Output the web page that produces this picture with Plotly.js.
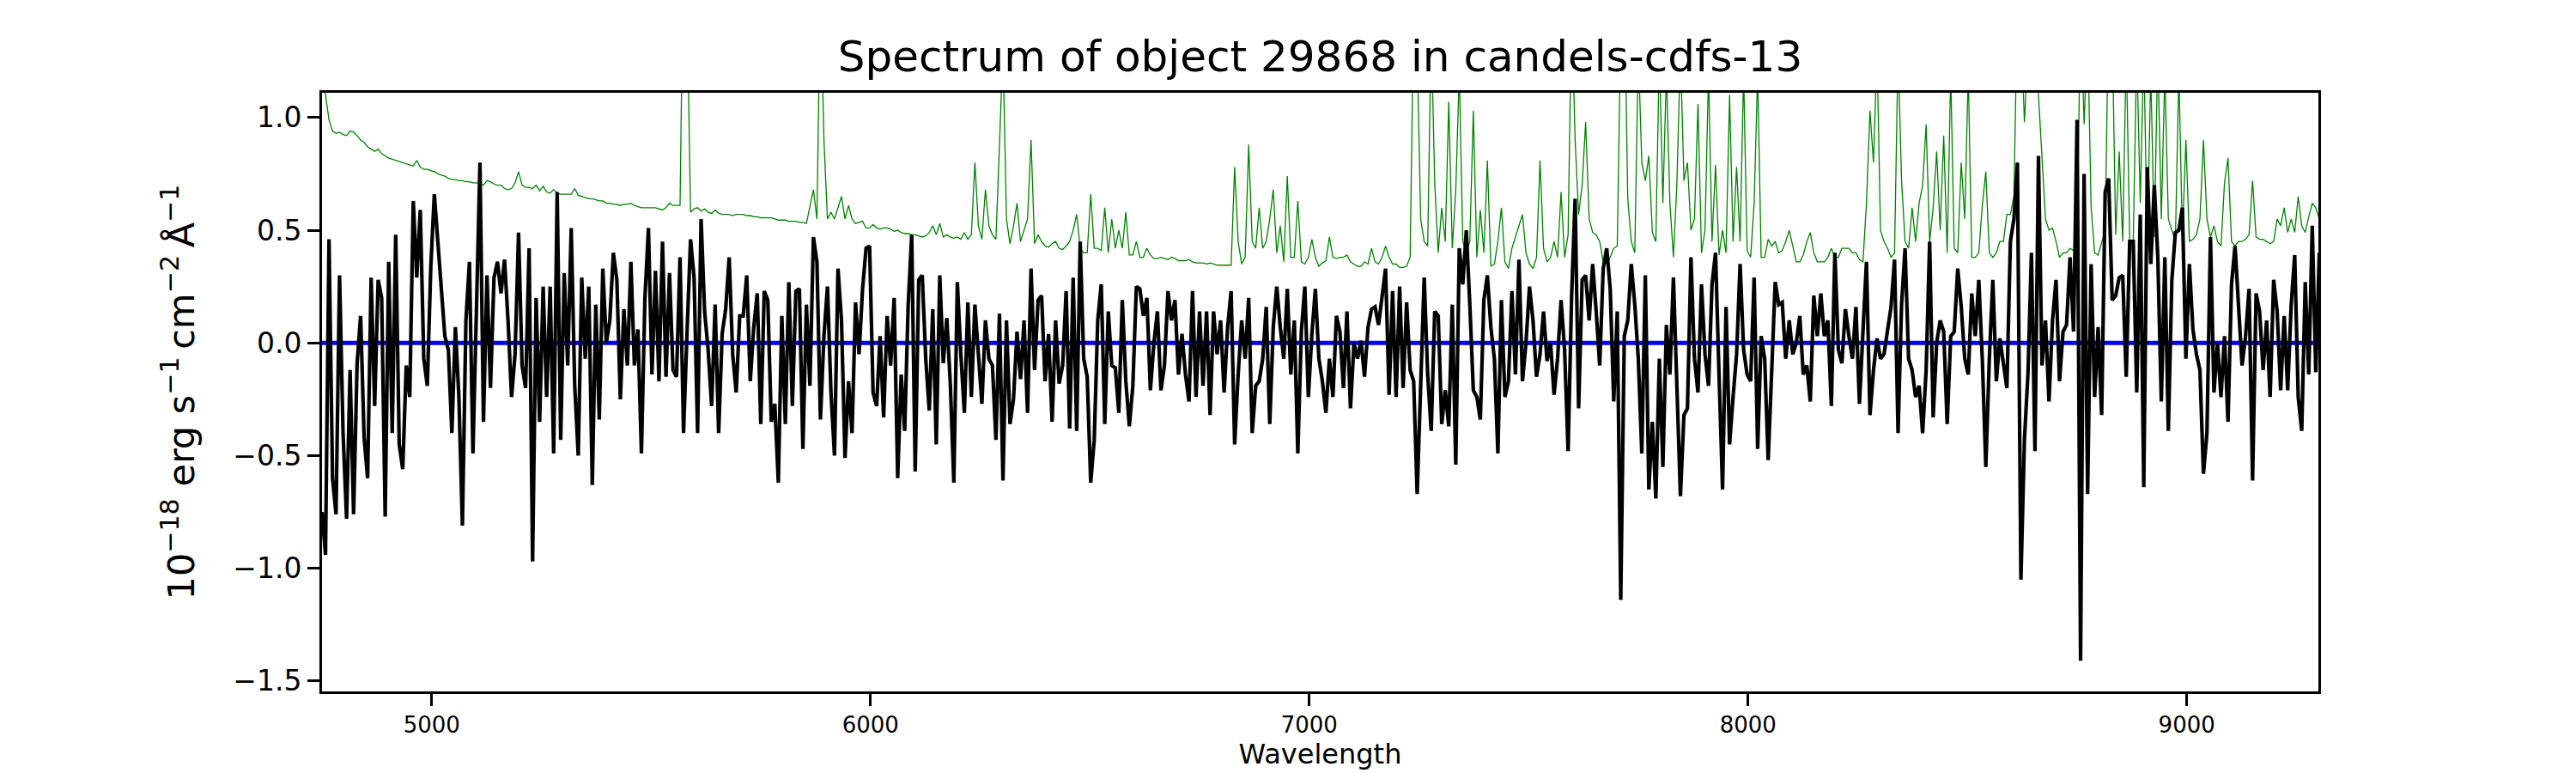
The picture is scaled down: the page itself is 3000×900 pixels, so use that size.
<!DOCTYPE html>
<html>
<head>
<meta charset="utf-8">
<script src="https://cdn.plot.ly/plotly-3.0.1.min.js"></script>
<style>
  html, body { margin: 0; padding: 0; background: #ffffff; }
  #spectrum { width: 3000px; height: 900px; }
</style>
</head>
<body>
<div id="spectrum"></div>
<script>
// Spectrum of object 29868 on an 8 A grid

const wavelength = [
  4750,4758,4766,4774,4782,4790,4798,4806,4814,4822,
  4830,4838,4846,4854,4862,4870,4878,4886,4894,4902,
  4910,4918,4926,4934,4942,4950,4958,4966,4974,4982,
  4990,4998,5006,5014,5022,5030,5038,5046,5054,5062,
  5070,5078,5086,5094,5102,5110,5118,5126,5134,5142,
  5150,5158,5166,5174,5182,5190,5198,5206,5214,5222,
  5230,5238,5246,5254,5262,5270,5278,5286,5294,5302,
  5310,5318,5326,5334,5342,5350,5358,5366,5374,5382,
  5390,5398,5406,5414,5422,5430,5438,5446,5454,5462,
  5470,5478,5486,5494,5502,5510,5518,5526,5534,5542,
  5550,5558,5566,5574,5582,5590,5598,5606,5614,5622,
  5630,5638,5646,5654,5662,5670,5678,5686,5694,5702,
  5710,5718,5726,5734,5742,5750,5758,5766,5774,5782,
  5790,5798,5806,5814,5822,5830,5838,5846,5854,5862,
  5870,5878,5886,5894,5902,5910,5918,5926,5934,5942,
  5950,5958,5966,5974,5982,5990,5998,6006,6014,6022,
  6030,6038,6046,6054,6062,6070,6078,6086,6094,6102,
  6110,6118,6126,6134,6142,6150,6158,6166,6174,6182,
  6190,6198,6206,6214,6222,6230,6238,6246,6254,6262,
  6270,6278,6286,6294,6302,6310,6318,6326,6334,6342,
  6350,6358,6366,6374,6382,6390,6398,6406,6414,6422,
  6430,6438,6446,6454,6462,6470,6478,6486,6494,6502,
  6510,6518,6526,6534,6542,6550,6558,6566,6574,6582,
  6590,6598,6606,6614,6622,6630,6638,6646,6654,6662,
  6670,6678,6686,6694,6702,6710,6718,6726,6734,6742,
  6750,6758,6766,6774,6782,6790,6798,6806,6814,6822,
  6830,6838,6846,6854,6862,6870,6878,6886,6894,6902,
  6910,6918,6926,6934,6942,6950,6958,6966,6974,6982,
  6990,6998,7006,7014,7022,7030,7038,7046,7054,7062,
  7070,7078,7086,7094,7102,7110,7118,7126,7134,7142,
  7150,7158,7166,7174,7182,7190,7198,7206,7214,7222,
  7230,7238,7246,7254,7262,7270,7278,7286,7294,7302,
  7310,7318,7326,7334,7342,7350,7358,7366,7374,7382,
  7390,7398,7406,7414,7422,7430,7438,7446,7454,7462,
  7470,7478,7486,7494,7502,7510,7518,7526,7534,7542,
  7550,7558,7566,7574,7582,7590,7598,7606,7614,7622,
  7630,7638,7646,7654,7662,7670,7678,7686,7694,7702,
  7710,7718,7726,7734,7742,7750,7758,7766,7774,7782,
  7790,7798,7806,7814,7822,7830,7838,7846,7854,7862,
  7870,7878,7886,7894,7902,7910,7918,7926,7934,7942,
  7950,7958,7966,7974,7982,7990,7998,8006,8014,8022,
  8030,8038,8046,8054,8062,8070,8078,8086,8094,8102,
  8110,8118,8126,8134,8142,8150,8158,8166,8174,8182,
  8190,8198,8206,8214,8222,8230,8238,8246,8254,8262,
  8270,8278,8286,8294,8302,8310,8318,8326,8334,8342,
  8350,8358,8366,8374,8382,8390,8398,8406,8414,8422,
  8430,8438,8446,8454,8462,8470,8478,8486,8494,8502,
  8510,8518,8526,8534,8542,8550,8558,8566,8574,8582,
  8590,8598,8606,8614,8622,8630,8638,8646,8654,8662,
  8670,8678,8686,8694,8702,8710,8718,8726,8734,8742,
  8750,8758,8766,8774,8782,8790,8798,8806,8814,8822,
  8830,8838,8846,8854,8862,8870,8878,8886,8894,8902,
  8910,8918,8926,8934,8942,8950,8958,8966,8974,8982,
  8990,8998,9006,9014,9022,9030,9038,9046,9054,9062,
  9070,9078,9086,9094,9102,9110,9118,9126,9134,9142,
  9150,9158,9166,9174,9182,9190,9198,9206,9214,9222,
  9230,9238,9246,9254,9262,9270,9278,9286,9294,9302
];

// object flux, 1e-18 erg/s/cm2/A
const flux = [
  // 4750 - 5526
  -0.75,-0.94,0.46,-0.60,-0.76,0.30,-0.40,-0.78,-0.12,-0.76,
  -0.09,0.12,-0.42,-0.60,0.29,-0.28,0.28,0.20,-0.77,0.36,
  -0.40,0.48,-0.45,-0.56,-0.10,-0.24,0.63,0.29,0.59,-0.07,
  -0.19,0.34,0.66,0.44,0.24,0.03,-0.03,-0.40,0.07,-0.24,
  -0.81,0.10,0.36,-0.49,0.15,0.80,-0.35,0.30,-0.20,0.29,
  0.36,0.22,0.37,0.10,-0.24,-0.05,0.49,-0.10,-0.20,0.42,
  -0.97,0.20,-0.35,0.25,-0.24,0.25,-0.49,0.67,-0.43,0.31,
  -0.10,0.51,-0.19,-0.50,0.29,-0.07,0.25,-0.63,0.17,-0.34,
  0.33,0.00,0.10,0.40,0.28,-0.25,0.15,-0.10,0.36,-0.10,
  0.06,-0.49,0.20,0.51,-0.14,0.32,-0.17,0.45,
  // 5534 - 6302
  -0.15,
  0.31,-0.12,-0.15,0.38,-0.40,0.05,0.46,0.29,-0.40,0.55,
  0.14,-0.03,-0.28,0.17,-0.40,0.04,0.15,0.38,-0.05,-0.22,
  0.12,0.12,0.30,-0.17,0.07,0.22,-0.36,0.23,0.19,-0.35,
  -0.27,-0.62,0.12,-0.36,0.27,-0.28,0.23,0.24,-0.47,0.17,
  -0.19,0.47,0.36,-0.34,0.03,0.25,-0.22,-0.50,0.33,0.10,
  -0.51,-0.17,-0.40,0.18,-0.05,0.24,0.42,0.43,-0.22,-0.28,
  0.03,-0.33,0.12,-0.10,0.20,-0.60,-0.14,-0.39,0.17,0.48,
  -0.57,0.28,0.30,-0.07,-0.30,0.15,-0.45,0.30,-0.09,0.11,
  -0.18,-0.62,0.27,-0.05,-0.31,0.18,-0.24,0.17,-0.05,-0.27,
  0.10,-0.07,-0.10,-0.43,0.13,-0.61,
  // 6310 - 7062
  0.10,-0.36,-0.25,0.05,-0.16,0.10,-0.31,0.33,-0.12,0.19,
  0.21,-0.17,0.04,-0.35,0.10,-0.18,-0.10,0.23,-0.38,0.29,
  -0.39,0.45,-0.07,-0.15,-0.62,-0.43,0.10,0.26,-0.36,0.14,
  -0.10,-0.11,-0.31,0.19,-0.17,-0.37,-0.19,0.25,0.24,0.12,
  0.20,-0.21,0.00,0.14,-0.21,-0.10,0.23,0.10,0.19,-0.14,
  0.04,-0.14,-0.26,0.23,-0.24,0.14,-0.19,0.14,-0.32,0.14,
  -0.05,0.10,-0.22,0.07,0.23,-0.45,-0.14,0.10,-0.07,0.20,
  -0.40,-0.19,-0.17,-0.07,0.16,-0.36,0.07,0.25,0.07,-0.07,
  0.24,-0.14,0.10,-0.49,0.05,0.25,-0.24,0.04,0.24,-0.07,
  -0.17,-0.31,-0.07,-0.24,0.12,
  // 7070 - 7822
  0.05,
  -0.20,0.14,-0.29,0.00,-0.07,0.01,-0.15,0.07,0.15,0.16,
  0.08,0.20,0.33,-0.23,0.23,-0.24,0.25,-0.20,0.18,-0.12,
  -0.17,-0.67,-0.19,0.29,-0.14,-0.39,0.14,0.12,-0.36,-0.21,
  -0.37,0.17,-0.54,0.42,0.26,0.50,0.17,-0.21,-0.24,-0.34,
  0.19,0.30,0.07,-0.07,-0.49,0.19,-0.24,-0.17,0.23,-0.14,
  0.37,-0.17,0.00,0.25,0.10,-0.15,-0.05,0.14,-0.08,0.00,
  -0.23,-0.07,0.19,-0.03,-0.48,0.21,0.64,-0.29,0.28,0.30,
  0.10,0.35,0.14,-0.10,0.33,0.42,0.24,-0.26,0.14,-1.14,
  0.03,0.10,0.35,0.17,-0.07,-0.49,0.30,-0.65,-0.35,-0.69,
  -0.07,-0.55,0.08,-0.14,
  // 7830 - 8582
  0.29,-0.14,-0.68,-0.32,-0.29,0.38,-0.07,-0.22,0.26,-0.05,
  -0.19,0.26,0.40,-0.14,-0.65,0.16,-0.45,-0.24,-0.05,0.35,
  -0.03,-0.14,-0.17,0.29,-0.47,0.03,-0.07,-0.52,-0.07,0.27,
  0.17,0.18,-0.07,0.10,-0.05,0.00,0.12,-0.14,-0.10,-0.26,
  0.21,0.03,0.22,0.03,0.10,-0.28,0.40,-0.03,-0.09,0.15,
  0.03,-0.07,0.16,-0.27,0.05,0.36,-0.32,-0.12,0.02,-0.07,
  -0.05,0.07,0.16,0.37,-0.40,0.17,0.42,-0.07,-0.12,-0.24,
  -0.19,-0.40,-0.12,0.45,-0.33,0.00,0.10,0.05,-0.36,0.03,
  0.05,0.33,0.16,-0.07,-0.14,0.22,0.03,0.28,-0.07,-0.55,
  -0.07,0.28,-0.17,0.02,-0.10,
  // 8590 - 9302
  -0.20,0.45,0.55,0.80,-1.05,-0.43,-0.14,0.40,-0.48,0.83,
  -0.10,0.10,-0.26,0.10,0.28,-0.17,0.05,0.08,0.38,0.05,
  0.99,-1.41,0.75,-0.67,0.35,-0.24,0.07,-0.32,0.67,0.73,
  0.19,0.21,0.29,0.30,-0.15,0.45,0.45,-0.22,0.57,-0.64,
  0.78,0.35,0.70,0.38,-0.26,0.38,-0.39,0.28,0.49,0.50,
  0.60,-0.07,0.35,0.06,-0.05,-0.12,-0.58,-0.40,0.47,-0.22,
  0.00,-0.24,0.03,-0.35,0.26,0.43,0.14,-0.10,0.03,0.24,
  -0.61,0.22,0.14,-0.12,0.10,-0.24,0.28,0.14,-0.21,0.12,
  -0.21,0.17,0.39,-0.24,-0.39,0.27,-0.14,0.52,-0.13,0.40
];

// noise spectrum (green), sky lines run off the top
const noise = [
  // 4750 - 5526
  1.30,1.10,0.99,0.94,0.93,0.935,0.925,0.92,0.94,0.935,
  0.92,0.90,0.89,0.87,0.86,0.85,0.86,0.84,0.83,0.82,
  0.815,0.81,0.805,0.80,0.795,0.79,0.785,0.81,0.78,0.77,
  0.77,0.765,0.76,0.75,0.745,0.74,0.73,0.725,0.725,0.72,
  0.72,0.715,0.715,0.71,0.71,0.705,0.70,0.72,0.715,0.705,
  0.70,0.70,0.685,0.68,0.685,0.71,0.76,0.70,0.69,0.69,
  0.685,0.70,0.675,0.695,0.67,0.665,0.68,0.665,0.66,0.66,
  0.66,0.66,0.685,0.655,0.65,0.645,0.64,0.64,0.635,0.63,
  0.63,0.62,0.62,0.615,0.615,0.61,0.615,0.615,0.62,0.61,
  0.605,0.60,0.60,0.60,0.60,0.60,0.595,0.59,
  // 5534 - 6302
  0.60,0.62,0.61,0.61,0.61,1.8,1.5,0.58,0.595,0.60,
  0.585,0.595,0.58,0.575,0.59,0.575,0.57,0.57,0.57,0.565,
  0.57,0.57,0.57,0.565,0.565,0.56,0.56,0.555,0.555,0.555,
  0.555,0.55,0.545,0.545,0.545,0.54,0.54,0.54,0.535,0.535,
  0.53,0.60,0.68,0.55,1.6,0.90,0.55,0.58,0.55,0.60,
  0.65,0.55,0.61,0.55,0.53,0.535,0.54,0.51,0.51,0.525,
  0.51,0.505,0.51,0.51,0.505,0.495,0.50,0.49,0.485,0.485,
  0.48,0.48,0.475,0.47,0.475,0.49,0.52,0.48,0.53,0.47,
  0.48,0.47,0.465,0.47,0.46,0.49,0.46,0.48,0.80,0.52,
  0.46,0.68,0.52,0.48,0.46,0.95,1.3,
  // 6310 - 7062
  0.55,0.44,0.52,0.62,0.45,0.50,0.55,0.90,0.44,0.48,
  0.45,0.43,0.425,0.44,0.45,0.42,0.415,0.43,0.45,0.50,
  0.57,0.42,0.40,0.40,0.66,0.42,0.42,0.41,0.60,0.40,
  0.55,0.42,0.50,0.42,0.58,0.39,0.39,0.45,0.38,0.38,
  0.42,0.39,0.375,0.375,0.38,0.375,0.37,0.38,0.375,0.365,
  0.365,0.365,0.37,0.36,0.355,0.355,0.355,0.35,0.355,0.35,
  0.345,0.345,0.345,0.345,0.345,0.78,0.45,0.35,0.38,0.88,
  0.45,0.42,0.60,0.42,0.45,0.55,0.68,0.40,0.52,0.36,
  0.74,0.38,0.38,0.63,0.36,0.35,0.38,0.46,0.38,0.34,
  0.355,0.365,0.47,0.38,0.375,
  // 7070 - 7822
  0.38,0.38,0.39,0.36,0.35,0.34,0.34,0.36,0.35,0.42,
  0.36,0.35,0.38,0.43,0.38,0.35,0.35,0.335,0.335,0.34,
  0.38,1.5,1.3,0.55,0.45,0.43,1.4,0.71,0.40,0.60,
  0.45,1.07,0.42,0.68,1.2,0.45,0.40,0.45,1.03,0.38,
  0.59,0.40,0.81,0.34,0.35,0.45,0.60,0.36,0.33,0.42,
  0.47,0.52,0.57,0.40,0.35,0.33,0.38,0.81,0.42,0.36,
  0.38,0.45,0.38,0.67,0.38,0.48,1.5,0.90,0.57,0.70,
  0.98,0.55,0.49,0.48,0.45,0.36,0.35,0.38,0.42,0.43,
  1.4,1.6,0.64,0.45,0.40,1.3,0.80,0.72,0.83,0.49,
  0.45,1.3,0.62,1.2,0.62,
  // 7830 - 8582
  0.38,0.71,1.3,0.72,0.80,0.50,0.55,1.06,0.40,0.50,
  1.2,0.45,0.79,0.39,0.50,0.40,1.1,0.45,0.78,0.45,
  1.2,0.41,0.38,0.62,1.2,0.38,0.38,0.46,0.43,0.45,
  0.40,0.41,0.45,0.50,0.43,0.36,0.36,0.39,0.45,0.49,
  0.40,0.36,0.36,0.36,0.38,0.42,0.38,0.38,0.42,0.42,
  0.42,0.40,0.40,0.37,0.36,0.62,1.03,0.80,1.3,0.50,
  0.45,0.42,0.38,0.40,1.3,0.72,0.45,0.42,0.60,0.45,
  0.62,0.70,0.97,0.45,0.60,0.85,0.50,0.92,0.40,1.2,
  0.42,0.40,0.80,0.55,1.2,0.38,0.38,0.40,0.61,0.76,
  0.40,0.38,0.40,0.45,0.45,
  // 8590 - 9302
  0.57,0.57,0.65,1.5,1.4,0.98,1.3,1.5,1.6,1.1,
  0.80,0.55,0.50,0.51,0.45,0.38,0.40,0.40,0.42,0.41,
  0.45,1.5,0.97,1.4,0.60,0.40,0.39,0.45,0.50,1.5,
  1.4,0.48,0.85,0.45,1.3,0.45,0.45,1.3,0.62,1.3,
  0.45,1.2,0.47,1.3,0.55,1.2,0.55,0.50,0.45,1.2,
  0.47,0.90,0.45,0.46,0.48,0.55,0.90,0.55,0.47,0.52,
  0.45,0.43,0.71,0.82,0.45,0.43,0.45,0.45,0.46,0.48,
  0.72,0.47,0.46,0.46,0.45,0.44,0.45,0.55,0.52,0.60,
  0.49,0.55,0.49,0.65,0.52,0.49,0.56,0.62,0.60,0.55
];

// zero level
const zeroWave = [4750, 9302];
const zeroLevel = [0, 0];

const zeroTrace = {
  x: zeroWave,
  y: zeroLevel,
  type: 'scatter',
  mode: 'lines',
  line: { color: '#0000ff', width: 5 },
  hoverinfo: 'skip',
};

const noiseTrace = {
  x: wavelength,
  y: noise,
  type: 'scatter',
  mode: 'lines',
  line: { color: '#008000', width: 1.3 },
  name: 'noise',
};

const fluxTrace = {
  x: wavelength,
  y: flux,
  type: 'scatter',
  mode: 'lines',
  line: { color: '#000000', width: 4.2 },
  name: 'flux',
};

const layout = {
  width: 3000,
  height: 900,
  margin: { l: 375, r: 300, t: 108, b: 95, pad: 0 },
  paper_bgcolor: '#ffffff',
  plot_bgcolor: '#ffffff',
  showlegend: false,
  font: { family: 'DejaVu Sans', color: '#000000' },
  title: {
    text: 'Spectrum of object 29868 in candels-cdfs-13',
    font: { size: 50, color: '#000000' },
    xref: 'paper',
    x: 0.5,
    xanchor: 'center',
    yref: 'container',
    y: 1 - 65 / 900,
    yanchor: 'middle',
  },
  xaxis: {
    range: [4750, 9300],
    showgrid: false,
    zeroline: false,
    showline: true,
    mirror: true,
    linecolor: '#000000',
    linewidth: 3,
    ticks: 'outside',
    ticklen: 14,
    tickwidth: 3,
    tickcolor: '#000000',
    tick0: 0,
    dtick: 1000,
    tickformat: 'd',
    tickfont: { size: 26 },
    title: { text: 'Wavelength', font: { size: 32 }, standoff: 8 },
  },
  yaxis: {
    range: [-1.546, 1.11],
    showgrid: false,
    zeroline: false,
    showline: true,
    mirror: true,
    linecolor: '#000000',
    linewidth: 3,
    ticks: 'outside',
    ticklen: 14,
    tickwidth: 3,
    tickcolor: '#000000',
    tick0: 0,
    dtick: 0.5,
    tickformat: '.1f',
    tickfont: { size: 33 },
    title: {
      text: '10<sup>−18</sup> erg s<sup>−1</sup>\u2009cm<sup>−2</sup>\u2009Å<sup>−1</sup>',
      font: { size: 43 },
      standoff: 32,
    },
  },
};

Plotly.newPlot('spectrum', [zeroTrace, noiseTrace, fluxTrace], layout, {
  displayModeBar: false,
  staticPlot: true,
});
</script>
</body>
</html>
